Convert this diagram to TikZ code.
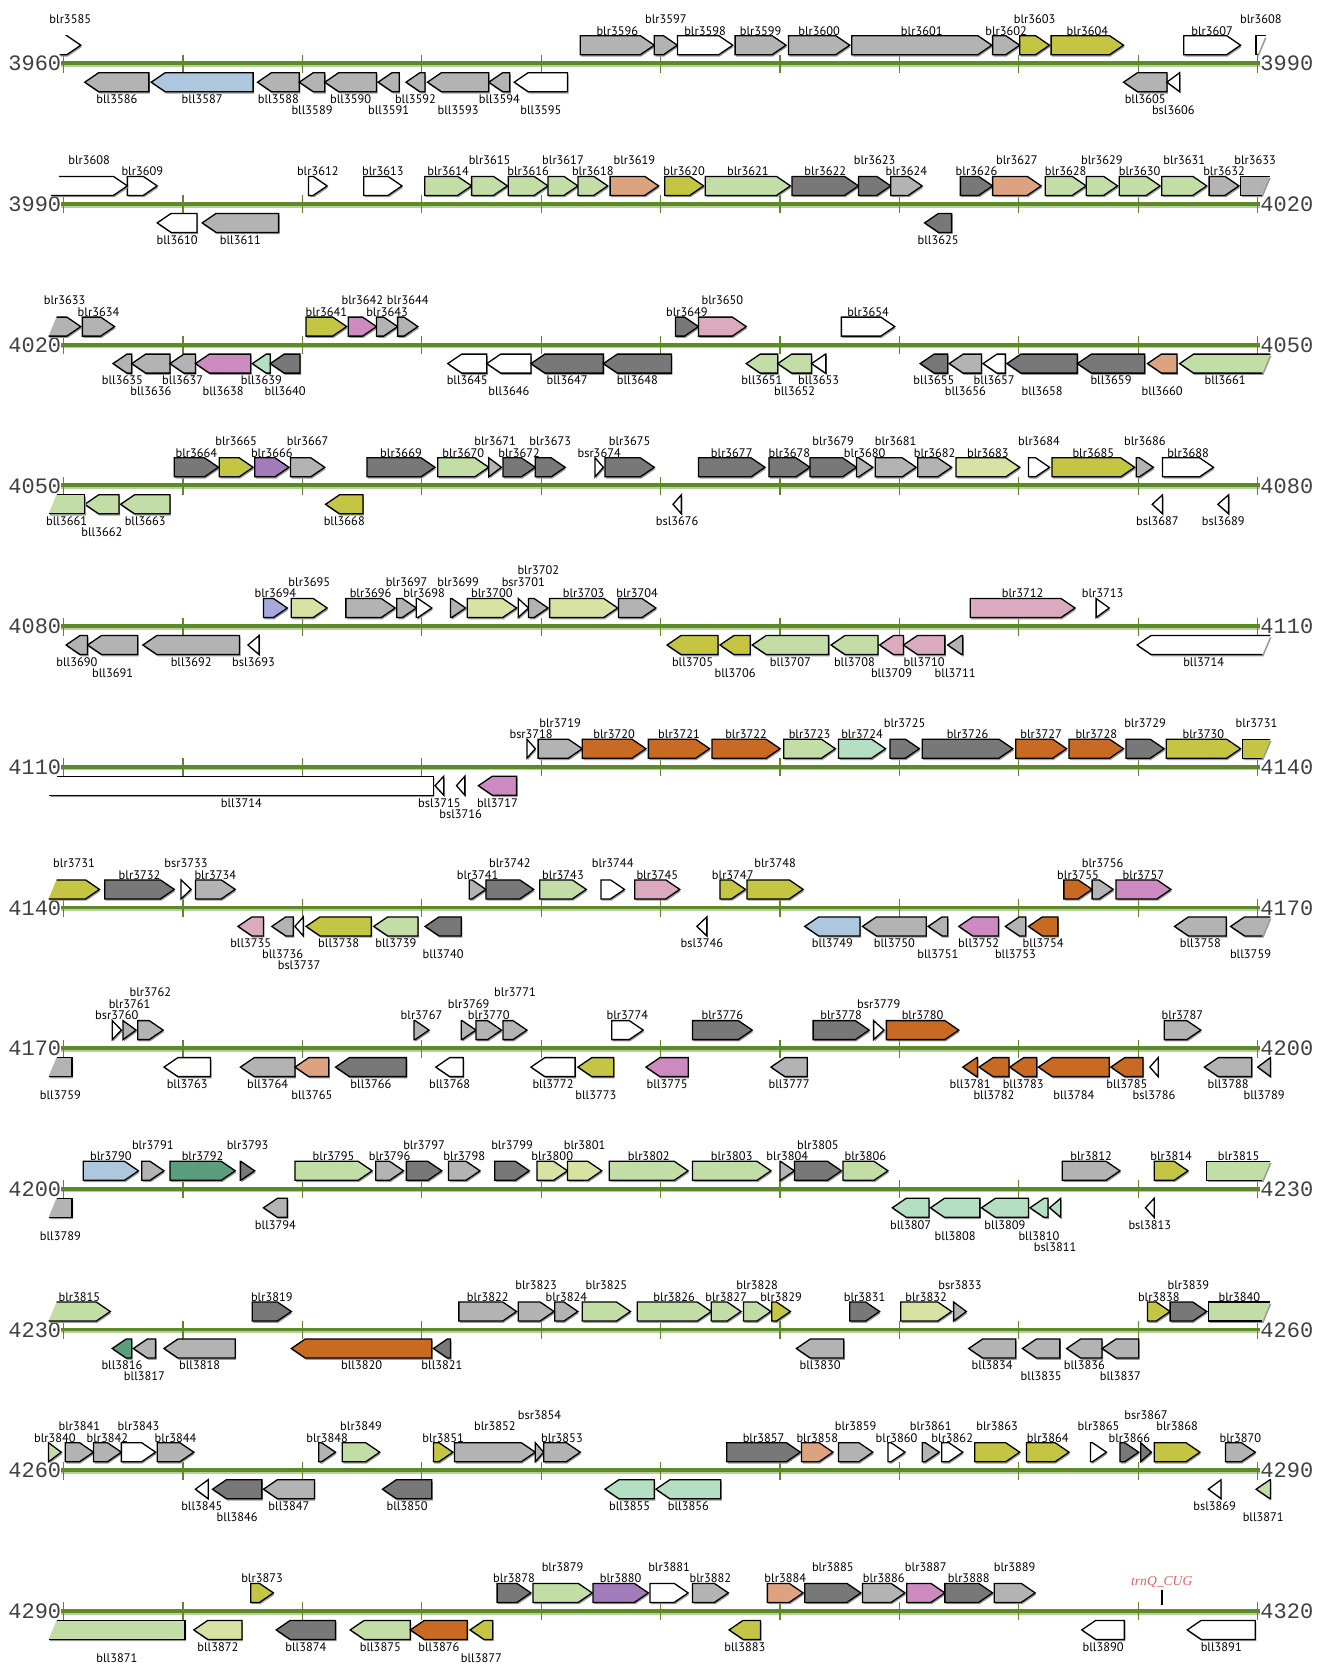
\documentclass[tikz,border=0pt]{standalone}
\usepackage{fontspec}
\newfontfamily\labelfont{PT Sans}
\newfontfamily\numfont{Liberation Mono}
\newfontfamily\trnafont{Liberation Serif}
\definecolor{axisgreen}{HTML}{5B8A26}
\definecolor{axislight}{HTML}{B7D09A}
\definecolor{gcg}{HTML}{B3B3B3}
\definecolor{gcd}{HTML}{787878}
\definecolor{gcw}{HTML}{FFFFFF}
\definecolor{gcy}{HTML}{C5C544}
\definecolor{gcb}{HTML}{ACC7DE}
\definecolor{gcs}{HTML}{DDA380}
\definecolor{gcl}{HTML}{C2DEA6}
\definecolor{gcm}{HTML}{CD8AC0}
\definecolor{gct}{HTML}{B5DFC2}
\definecolor{gcp}{HTML}{DBAABF}
\definecolor{gcv}{HTML}{A27BBA}
\definecolor{gce}{HTML}{D9E2A3}
\definecolor{gcu}{HTML}{A8A8DD}
\definecolor{gco}{HTML}{C86A22}
\definecolor{gcq}{HTML}{5A9E7E}
\definecolor{trnared}{HTML}{E25F5F}
\tikzset{
  geneshadow/.style={preaction={fill=black!40,transform canvas={xshift=0.5pt,yshift=-0.9pt}}},
  genebox/.style={draw=black,line width=0.65pt,geneshadow},
  geneedge/.style={draw=black,line width=0.65pt},
  glabel/.style={font=\labelfont\fontsize{6.2}{7}\selectfont,inner sep=0pt},
  axisnum/.style={font=\numfont\fontsize{11}{12}\selectfont,inner sep=0pt,text=black!75},
  axisline/.style={axisgreen,line width=1.9pt},
  axisglow/.style={axislight,line width=0.9pt},
  tickline/.style={axisgreen,line width=0.6pt},
}
% forward gene: from, to, colour, label level, name
\newcommand{\fg}[5]{%
  \pgfmathsetmacro{\xb}{#2-min(0.35,#2-(#1))}
  \draw[genebox,fill=gc#3] (#1,-28) -- (\xb,-28) -- (#2,-18.5) -- (\xb,-9) -- (#1,-9) -- cycle;
  \node[glabel] (#5) at ({(#1+#2)/2},{-21.5-11.5*#4}) {#5};
}
% reverse gene
\newcommand{\rg}[5]{%
  \pgfmathsetmacro{\xa}{#1+min(0.35,#2-(#1))}
  \draw[genebox,fill=gc#3] (#1,18.5) -- (\xa,9) -- (#2,9) -- (#2,28) -- (\xa,28) -- cycle;
  \node[glabel] (#5) at ({(#1+#2)/2},{24.5+11*#4}) {#5};
}
% genes cut at a row end (cut side left open)
\newcommand{\fgl}[5]{%
  \pgfmathsetmacro{\xb}{#2-min(0.35,#2-(#1))}
  \fill[geneshadow,gc#3] (#1,-9) -- ({#1+0.2},-28) -- (\xb,-28) -- (#2,-18.5) -- (\xb,-9) -- cycle;
  \draw[geneedge] ({#1+0.2},-28) -- (\xb,-28) -- (#2,-18.5) -- (\xb,-9) -- (#1,-9);
  \node[glabel] (#5) at ({(#1+#2)/2},{-21.5-11.5*#4}) {#5};
}
\newcommand{\fgr}[5]{%
  \fill[geneshadow,gc#3] (#1,-28) -- (#2,-28) -- ({#2-0.2},-9) -- (#1,-9) -- cycle;
  \draw[geneedge] (#2,-28) -- (#1,-28) -- (#1,-9) -- ({#2-0.2},-9);
  \node[glabel] (#5) at ({(#1+#2)/2},{-21.5-11.5*#4}) {#5};
}
\newcommand{\rgl}[5]{%
  \fill[geneshadow,gc#3] (#1,28) -- ({#1+0.2},9) -- (#2,9) -- (#2,28) -- cycle;
  \draw[geneedge] ({#1+0.2},9) -- (#2,9) -- (#2,28) -- (#1,28);
  \node[glabel] (#5) at ({(#1+#2)/2},{24.5+11*#4}) {#5};
}
\newcommand{\rgr}[5]{%
  \pgfmathsetmacro{\xa}{#1+min(0.35,#2-(#1))}
  \fill[geneshadow,gc#3] (#1,18.5) -- (\xa,9) -- (#2,9) -- ({#2-0.2},28) -- (\xa,28) -- cycle;
  \draw[geneedge] ({#2-0.2},28) -- (\xa,28) -- (#1,18.5) -- (\xa,9) -- (#2,9);
  \node[glabel] (#5) at ({(#1+#2)/2},{24.5+11*#4}) {#5};
}
% one 30 kb stretch of the chromosome
\newcommand{\genomerow}[2]{%
  \draw[axisglow] (-0.06,2.2) -- (30.06,2.2);
  \draw[axisline] (-0.06,-0.5) -- (30.06,-0.5);
  \foreach \t in {0,3,...,30} {\draw[tickline] (\t,-9) -- (\t,9);}
  \node[axisnum,anchor=east] (start#1) at (-0.053,0) {#1};
  \node[axisnum,anchor=west] (end#2) at (30.06,0) {#2};
}

\begin{document}
\begin{tikzpicture}[x=19.9pt,y=-0.5pt]
  \useasboundingbox (0,0) rectangle (33.417,1665);

  % 3960 - 3990
  \begin{scope}[shift={(1.6,63.7)}]
    \genomerow{3960}{3990}
    \foreach \a/\b/\c/\l/\n in {12.98/14.84/g/1/blr3596,14.84/15.42/g/2/blr3597,
      15.42/16.81/w/1/blr3598,16.87/18.15/g/1/blr3599,18.21/19.75/g/1/blr3600,
      19.80/23.32/g/1/blr3601,23.34/24.02/g/1/blr3602,24.02/24.77/y/2/blr3603,
      24.81/26.63/y/1/blr3604,28.14/29.57/w/1/blr3607} {\fg{\a}{\b}{\c}{\l}{\n}}
    \fgl{-0.10}{0.43}{w}{2}{blr3585}
    \fgr{29.96}{30.20}{w}{2}{blr3608}
    \foreach \a/\b/\c/\l/\n in {0.53/2.14/g/1/bll3586,2.20/4.76/b/1/bll3587,
      4.87/5.92/g/1/bll3588,5.92/6.56/g/2/bll3589,6.56/7.86/g/1/bll3590,
      7.90/8.43/g/2/bll3591,8.60/9.08/g/1/bll3592,9.14/10.68/g/2/bll3593,
      10.68/11.21/g/1/bll3594,11.32/12.66/w/2/bll3595,26.63/27.72/g/1/bll3605,
      27.72/28.04/w/2/bsl3606} {\rg{\a}{\b}{\c}{\l}{\n}}
  \end{scope}

  % 3990 - 4020
  \begin{scope}[shift={(1.6,204.4)}]
    \genomerow{3990}{4020}
    \foreach \a/\b/\c/\l/\n in {1.60/2.35/w/1/blr3609,6.15/6.62/w/1/blr3612,
      7.54/8.50/w/1/blr3613,9.07/10.25/l/1/blr3614,10.25/11.15/l/2/blr3615,
      11.17/12.17/l/1/blr3616,12.17/12.92/l/2/blr3617,12.92/13.67/l/1/blr3618,
      13.73/14.95/s/2/blr3619,15.10/16.08/y/1/blr3620,16.12/18.26/l/1/blr3621,
      18.30/19.97/d/1/blr3622,19.97/20.78/d/2/blr3623,20.78/21.57/g/1/blr3624,
      22.53/23.34/d/1/blr3626,23.34/24.56/s/2/blr3627,24.66/25.69/l/1/blr3628,
      25.69/26.48/l/2/blr3629,26.52/27.55/l/1/blr3630,27.59/28.72/l/2/blr3631,
      28.78/29.53/g/1/blr3632} {\fg{\a}{\b}{\c}{\l}{\n}}
    \fgl{-0.32}{1.60}{w}{2}{blr3608}
    \fgr{29.57}{30.30}{g}{2}{blr3633}
    \foreach \a/\b/\c/\l/\n in {2.35/3.35/w/1/bll3610,3.48/5.40/g/1/bll3611,
      21.63/22.31/d/1/bll3625} {\rg{\a}{\b}{\c}{\l}{\n}}
  \end{scope}

  % 4020 - 4050
  \begin{scope}[shift={(1.6,345.1)}]
    \genomerow{4020}{4050}
    \foreach \a/\b/\c/\l/\n in {0.47/1.28/g/1/blr3634,6.09/7.11/y/1/blr3641,
      7.15/7.86/m/2/blr3642,7.86/8.39/g/1/blr3643,8.39/8.90/g/2/blr3644,
      15.37/15.95/d/1/blr3649,15.95/17.15/p/2/blr3650,19.54/20.88/w/1/blr3654}
      {\fg{\a}{\b}{\c}{\l}{\n}}
    \fgl{-0.38}{0.43}{g}{2}{blr3633}
    \foreach \a/\b/\c/\l/\n in {1.24/1.71/g/1/bll3635,1.71/2.67/g/2/bll3636,
      2.67/3.31/g/1/bll3637,3.31/4.70/m/2/bll3638,4.74/5.19/t/1/bll3639,
      5.19/5.94/d/2/bll3640,9.65/10.63/w/1/bll3645,10.63/11.74/w/2/bll3646,
      11.74/13.56/d/1/bll3647,13.56/15.27/d/1/bll3648,17.15/17.94/l/1/bll3651,
      17.94/18.79/l/2/bll3652,18.79/19.15/w/1/bll3653,21.52/22.21/d/1/bll3655,
      22.25/23.06/g/2/bll3656,23.10/23.66/w/1/bll3657,23.70/25.47/d/2/bll3658,
      25.47/27.16/d/1/bll3659,27.23/27.97/s/2/bll3660} {\rg{\a}{\b}{\c}{\l}{\n}}
    \rgr{28.04}{30.32}{l}{1}{bll3661}
  \end{scope}

  % 4050 - 4080
  \begin{scope}[shift={(1.6,485.8)}]
    \genomerow{4050}{4080}
    \foreach \a/\b/\c/\l/\n in {2.78/3.89/d/1/blr3664,3.91/4.76/y/2/blr3665,
      4.80/5.66/v/1/blr3666,5.70/6.56/g/2/blr3667,7.62/9.33/d/1/blr3669,
      9.40/10.68/l/1/blr3670,10.68/11.00/g/2/blr3671,11.04/11.85/d/1/blr3672,
      11.85/12.60/d/2/blr3673,13.35/13.56/w/1/bsr3674,13.60/14.84/d/2/blr3675,
      15.95/17.62/d/1/blr3677,17.72/18.75/d/1/blr3678,18.75/19.92/d/2/blr3679,
      19.92/20.33/g/1/blr3680,20.39/21.42/g/2/blr3681,21.46/22.31/g/1/blr3682,
      22.42/24.02/e/1/blr3683,24.24/24.77/w/2/blr3684,24.83/26.91/y/1/blr3685,
      26.95/27.38/g/2/blr3686,27.61/28.89/w/1/blr3688} {\fg{\a}{\b}{\c}{\l}{\n}}
    \foreach \a/\b/\c/\l/\n in {0.53/1.39/l/2/bll3662,1.43/2.67/l/1/bll3663,
      6.58/7.52/y/1/bll3668,15.31/15.52/w/1/bsl3676,27.35/27.61/w/1/bsl3687,
      29.00/29.27/w/1/bsl3689} {\rg{\a}{\b}{\c}{\l}{\n}}
    \rgl{-0.38}{0.53}{l}{1}{bll3661}
  \end{scope}

  % 4080 - 4110
  \begin{scope}[shift={(1.6,626.5)}]
    \genomerow{4080}{4110}
    \foreach \a/\b/\c/\l/\n in {5.02/5.62/u/1/blr3694,5.72/6.62/e/2/blr3695,
      7.09/8.33/g/1/blr3696,8.37/8.86/g/2/blr3697,8.86/9.25/w/1/blr3698,
      9.72/10.10/g/2/blr3699,10.14/11.38/e/1/blr3700,11.42/11.68/w/2/bsr3701,
      11.68/12.17/g/3/blr3702,12.21/13.92/e/1/blr3703,13.94/14.88/g/1/blr3704,
      22.78/25.41/p/1/blr3712,25.94/26.27/w/1/blr3713} {\fg{\a}{\b}{\c}{\l}{\n}}
    \foreach \a/\b/\c/\l/\n in {0.06/0.60/g/1/bll3690,0.60/1.86/g/2/bll3691,
      1.99/4.42/g/1/bll3692,4.63/4.91/w/1/bsl3693,15.16/16.44/y/1/bll3705,
      16.49/17.25/y/2/bll3706,17.30/19.22/l/1/bll3707,19.28/20.46/l/1/bll3708,
      20.50/21.10/p/2/bll3709,21.10/22.14/p/1/bll3710,22.21/22.59/g/2/bll3711}
      {\rg{\a}{\b}{\c}{\l}{\n}}
    \rgr{26.97}{30.32}{w}{1}{bll3714}
  \end{scope}

  % 4110 - 4140
  \begin{scope}[shift={(1.6,767.2)}]
    \genomerow{4110}{4140}
    \foreach \a/\b/\c/\l/\n in {11.64/11.85/w/1/bsr3718,11.92/13.03/g/2/blr3719,
      13.03/14.63/o/1/blr3720,14.69/16.23/o/1/blr3721,16.29/18.00/o/1/blr3722,
      18.09/19.39/l/1/blr3723,19.47/20.65/t/1/blr3724,20.76/21.50/d/2/blr3725,
      21.57/23.85/d/1/blr3726,23.92/25.20/o/1/blr3727,25.26/26.63/o/1/blr3728,
      26.69/27.65/d/2/blr3729,27.70/29.57/y/1/blr3730} {\fg{\a}{\b}{\c}{\l}{\n}}
    \fgr{29.62}{30.32}{y}{2}{blr3731}
    \rgl{-0.36}{9.29}{w}{1}{bll3714}
    \foreach \a/\b/\c/\l/\n in {9.33/9.55/w/1/bsl3715,9.87/10.08/w/2/bsl3716,
      10.42/11.38/m/1/bll3717} {\rg{\a}{\b}{\c}{\l}{\n}}
  \end{scope}

  % 4140 - 4170
  \begin{scope}[shift={(1.6,907.9)}]
    \genomerow{4140}{4170}
    \foreach \a/\b/\c/\l/\n in {1.03/2.78/d/1/blr3732,2.95/3.20/w/2/bsr3733,
      3.31/4.31/g/1/blr3734,10.19/10.61/g/1/blr3741,10.61/11.81/d/2/blr3742,
      11.96/13.13/l/1/blr3743,13.50/14.09/w/2/blr3744,14.35/15.48/p/1/blr3745,
      16.49/17.13/y/1/blr3747,17.17/18.58/y/2/blr3748,25.13/25.84/o/1/blr3755,
      25.84/26.37/g/2/blr3756,26.44/27.82/m/1/blr3757} {\fg{\a}{\b}{\c}{\l}{\n}}
    \fgl{-0.38}{0.90}{y}{2}{blr3731}
    \foreach \a/\b/\c/\l/\n in {4.38/5.02/p/1/bll3735,5.23/5.77/g/2/bll3736,
      5.81/6.02/w/3/bsl3737,6.09/7.73/y/1/bll3738,7.79/8.90/l/1/bll3739,
      9.08/9.99/d/2/bll3740,15.91/16.16/w/1/bsl3746,18.62/20.01/b/1/bll3749,
      20.07/21.67/g/1/bll3750,21.72/22.21/g/2/bll3751,22.49/23.49/m/1/bll3752,
      23.66/24.17/g/2/bll3753,24.24/24.98/o/1/bll3754,27.91/29.21/g/1/bll3758}
      {\rg{\a}{\b}{\c}{\l}{\n}}
    \rgr{29.32}{30.32}{g}{2}{bll3759}
  \end{scope}

  % 4170 - 4200
  \begin{scope}[shift={(1.6,1048.6)}]
    \genomerow{4170}{4200}
    \foreach \a/\b/\c/\l/\n in {1.22/1.45/w/1/bsr3760,1.49/1.82/g/2/blr3761,
      1.86/2.50/g/3/blr3762,8.80/9.18/g/1/blr3767,9.99/10.36/g/2/blr3769,
      10.36/11.00/g/1/blr3770,11.04/11.64/g/3/blr3771,13.77/14.56/w/1/blr3774,
      15.80/17.30/d/1/blr3776,18.83/20.24/d/1/blr3778,20.35/20.61/w/2/bsr3779,
      20.67/22.49/o/1/blr3780,27.65/28.57/g/1/blr3787} {\fg{\a}{\b}{\c}{\l}{\n}}
    \rgl{-0.38}{0.21}{g}{2}{bll3759}
    \foreach \a/\b/\c/\l/\n in {2.52/3.69/w/1/bll3763,4.44/5.81/g/1/bll3764,
      5.81/6.66/s/2/bll3765,6.83/8.61/d/1/bll3766,9.35/10.04/w/1/bll3768,
      11.74/12.85/w/1/bll3772,12.92/13.82/y/2/bll3773,14.63/15.69/m/1/bll3775,
      17.77/18.68/g/1/bll3777,22.59/22.96/o/1/bll3781,23.00/23.75/o/2/bll3782,
      23.77/24.45/o/1/bll3783,24.49/26.27/o/2/bll3784,26.31/27.12/o/1/bll3785,
      27.29/27.50/w/2/bsl3786,28.66/29.85/g/1/bll3788,30.00/30.32/g/2/bll3789}
      {\rg{\a}{\b}{\c}{\l}{\n}}
  \end{scope}

  % 4200 - 4230
  \begin{scope}[shift={(1.6,1189.3)}]
    \genomerow{4200}{4230}
    \foreach \a/\b/\c/\l/\n in {0.49/1.88/b/1/blr3790,1.96/2.52/g/2/blr3791,
      2.67/4.31/q/1/blr3792,4.44/4.80/d/2/blr3793,5.81/7.75/l/1/blr3795,
      7.84/8.54/g/1/blr3796,8.61/9.50/d/2/blr3797,9.67/10.46/g/1/blr3798,
      10.83/11.70/d/2/blr3799,11.89/12.66/e/1/blr3800,12.66/13.52/e/2/blr3801,
      13.71/15.69/l/1/blr3802,15.80/17.77/l/1/blr3803,18.00/18.36/g/1/blr3804,
      18.36/19.54/d/2/blr3805,19.58/20.71/l/1/blr3806,25.09/26.54/g/1/blr3812,
      27.40/28.25/y/1/blr3814} {\fg{\a}{\b}{\c}{\l}{\n}}
    \fgr{28.72}{30.32}{l}{1}{blr3815}
    \rgl{-0.38}{0.21}{g}{2}{bll3789}
    \foreach \a/\b/\c/\l/\n in {5.02/5.62/g/1/bll3794,20.82/21.74/t/1/bll3807,
      21.78/23.02/t/2/bll3808,23.06/24.24/t/1/bll3809,24.28/24.73/t/2/bll3810,
      24.77/25.05/t/3/bsl3811,27.18/27.40/w/1/bsl3813} {\rg{\a}{\b}{\c}{\l}{\n}}
  \end{scope}

  % 4230 - 4260
  \begin{scope}[shift={(1.6,1330.0)}]
    \genomerow{4230}{4260}
    \foreach \a/\b/\c/\l/\n in {4.74/5.72/d/1/blr3819,9.93/11.38/g/1/blr3822,
      11.42/12.32/g/2/blr3823,12.34/12.92/g/1/blr3824,13.03/14.24/l/2/blr3825,
      14.41/16.27/l/1/blr3826,16.27/17.02/l/1/blr3827,17.08/17.77/l/2/blr3828,
      17.79/18.26/y/1/blr3829,19.75/20.50/d/1/blr3831,21.03/22.31/e/1/blr3832,
      22.36/22.68/g/2/bsr3833,27.23/27.80/y/1/blr3838,27.80/28.72/d/2/blr3839}
      {\fg{\a}{\b}{\c}{\l}{\n}}
    \fgl{-0.38}{1.17}{l}{1}{blr3815}
    \fgr{28.76}{30.32}{l}{1}{blr3840}
    \foreach \a/\b/\c/\l/\n in {1.22/1.71/q/1/bll3816,1.75/2.31/g/2/bll3817,
      2.52/4.31/g/1/bll3818,5.72/9.25/o/1/bll3820,9.29/9.72/d/1/bll3821,
      18.41/19.60/g/1/bll3830,22.74/23.92/g/1/bll3834,24.09/25.03/g/2/bll3835,
      25.20/26.09/g/1/bll3836,26.09/27.01/g/2/bll3837} {\rg{\a}{\b}{\c}{\l}{\n}}
  \end{scope}

  % 4260 - 4290
  \begin{scope}[shift={(1.6,1470.7)}]
    \genomerow{4260}{4290}
    \foreach \a/\b/\c/\l/\n in {-0.38/-0.06/l/1/blr3840,0.04/0.75/g/2/blr3841,
      0.75/1.45/g/1/blr3842,1.45/2.31/w/2/blr3843,2.35/3.27/g/1/blr3844,
      6.41/6.83/g/1/blr3848,7.00/7.94/l/2/blr3849,9.29/9.78/y/1/blr3851,
      9.82/11.85/g/2/blr3852,11.85/12.06/g/3/bsr3854,12.06/12.98/g/1/blr3853,
      16.66/18.51/d/1/blr3857,18.54/19.33/s/1/blr3858,19.47/20.33/g/2/blr3859,
      20.71/21.14/w/1/blr3860,21.57/22.00/g/2/blr3861,22.06/22.59/w/1/blr3862,
      22.89/24.02/y/2/blr3863,24.19/25.26/y/1/blr3864,25.80/26.20/w/2/blr3865,
      26.54/27.01/d/1/blr3866,27.06/27.33/d/3/bsr3867,27.40/28.55/y/2/blr3868,
      29.19/29.94/g/1/blr3870} {\fg{\a}{\b}{\c}{\l}{\n}}
    \foreach \a/\b/\c/\l/\n in {3.31/3.63/w/1/bll3845,3.74/4.98/d/2/bll3846,
      5.02/6.30/g/1/bll3847,8.01/9.25/d/1/bll3850,13.60/14.84/t/1/bll3855,
      14.88/16.51/t/1/bll3856,28.76/29.08/w/1/bsl3869,29.96/30.32/l/2/bll3871}
      {\rg{\a}{\b}{\c}{\l}{\n}}
  \end{scope}

  % 4290 - 4320
  \begin{scope}[shift={(1.6,1611.4)}]
    \genomerow{4290}{4320}
    \foreach \a/\b/\c/\l/\n in {4.70/5.27/y/1/blr3873,10.89/11.74/d/1/blr3878,
      11.79/13.28/l/2/blr3879,13.30/14.69/v/1/blr3880,14.73/15.69/w/2/blr3881,
      15.80/16.70/g/1/blr3882,17.68/18.58/s/1/blr3884,18.62/20.03/d/2/blr3885,
      20.07/21.14/g/1/blr3886,21.18/22.14/m/2/blr3887,22.14/23.34/d/1/blr3888,
      23.38/24.41/g/2/blr3889} {\fg{\a}{\b}{\c}{\l}{\n}}
    \rgl{-0.38}{3.05}{l}{2}{bll3871}
    \foreach \a/\b/\c/\l/\n in {3.27/4.48/e/1/bll3872,5.34/6.83/d/1/bll3874,
      7.20/8.71/l/1/bll3875,8.71/10.14/o/1/bll3876,10.21/10.78/y/2/bll3877,
      16.72/17.51/y/1/bll3883,25.58/26.65/w/1/bll3890,28.23/29.94/w/1/bll3891}
      {\rg{\a}{\b}{\c}{\l}{\n}}
    % tRNA gene
    \draw[black,line width=0.9pt] (27.59,-21) -- (27.59,-6);
    \node[font=\trnafont\itshape\fontsize{6.8}{8}\selectfont,text=trnared,inner sep=0pt]
      (trnQ) at (27.59,-29.5) {trnQ\_CUG};
  \end{scope}
\end{tikzpicture}
\end{document}
